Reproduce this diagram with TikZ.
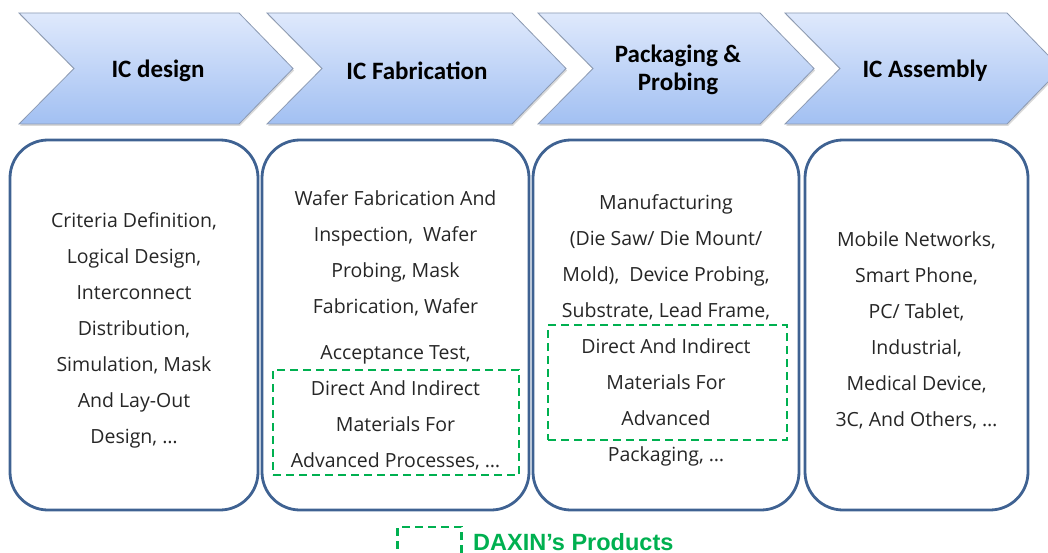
\documentclass[tikz,border=0pt]{standalone}
\usepackage{fontspec}
\setmainfont{Open Sans}
\newfontfamily\headfont{Carlito}
\newfontfamily\keyfont{Liberation Sans}
\usetikzlibrary{shadows}
\definecolor{panelblue}{RGB}{63,98,146}
\definecolor{daxingreen}{RGB}{0,176,80}
\definecolor{stagetop}{RGB}{223,233,252}
\definecolor{stagebottom}{RGB}{162,192,242}
\definecolor{stageedge}{RGB}{140,154,178}
\newcommand{\panelgap}{\rule{0pt}{26pt}}
\tikzset{
  stage/.style={
    top color=stagetop, bottom color=stagebottom,
    draw=stageedge, line width=0.8pt,
    drop shadow={opacity=0.3, shadow xshift=1pt, shadow yshift=-2pt}
  }}
\tikzset{
  stage label/.style={
    font=\headfont\bfseries\fontsize{25}{28}\selectfont,
    align=center, text=black
  }}
\tikzset{
  panel/.style={
    draw=panelblue, line width=2.8pt, rounded corners=38pt,
    minimum width=#1, minimum height=370pt,
    align=center, text=black!85,
    font=\fontsize{19.5}{36}\selectfont
  }}
\tikzset{
  daxin/.style={
    draw=daxingreen, line width=2.8pt, dash pattern=on 8pt off 5pt,
    minimum width=#1, inner sep=0pt
  }}

\begin{document}
\begin{tikzpicture}[x=1pt,y=-1pt]
    \useasboundingbox (0,0) rectangle (1048,553);
%    \fill[white] (0,0) rectangle (1048,553);
    % process stages
    \foreach \l/\r in {19/239, 267/512, 538/760, 785/1007}
        \path[stage] (\l,13) -- (\r,13) -- (\r+54,68.5) -- (\r,124)
            -- (\l,124) -- (\l+55,68.5) -- cycle;
    \node[stage label] (s1) at (158,71) {IC design};
    \node[stage label] (s2) at (417,71) {IC Fabrication};
    \node[stage label] (s3) at (678,70) {Packaging \&\\Probing};
    \node[stage label] (s4) at (925,71) {IC Assembly};
    % panels
    \node[panel=248pt] (p1) at (134,325) {\panelgap Criteria Definition,\\ Logical Design,\\
        Interconnect\\ Distribution,\\ Simulation, Mask\\ And Lay-Out\\ Design, …};
    \node[panel=267pt] (p2) at (395.5,325) {\panelgap Wafer Fabrication And\\ Inspection,~ Wafer\\
        Probing, Mask\\ Fabrication, Wafer\\[10pt] Acceptance Test,\\
        Direct And Indirect\\ Materials For\\ Advanced Processes, …};
    \node[panel=266pt] (p3) at (666,325) {\panelgap Manufacturing\\ (Die Saw/ Die Mount/\\
        Mold),~ Device Probing,\\ Substrate, Lead Frame,\\ Direct And Indirect\\
        Materials For\\ Advanced\\ Packaging, …};
    \node[panel=223pt] (p4) at (916.5,325) {\panelgap Mobile Networks,\\ Smart Phone,\\
        PC/ Tablet,\\ Industrial,\\ Medical Device,\\ 3C, And Others, …};
    % DAXIN's products
    \node[daxin=246pt, minimum height=105pt] (d2) at (396,422.5) {};
    \node[daxin=239pt, minimum height=115pt] (d3) at (667.5,382.5) {};
    \node[daxin=64pt, minimum height=40pt] (key) at (429.5,547) {};
    \node[anchor=base west, text=daxingreen, inner sep=0pt,
        font=\keyfont\bfseries\fontsize{23.5}{26}\selectfont] (keytext) at (473,550) {DAXIN’s Products};
\end{tikzpicture}
\end{document}
